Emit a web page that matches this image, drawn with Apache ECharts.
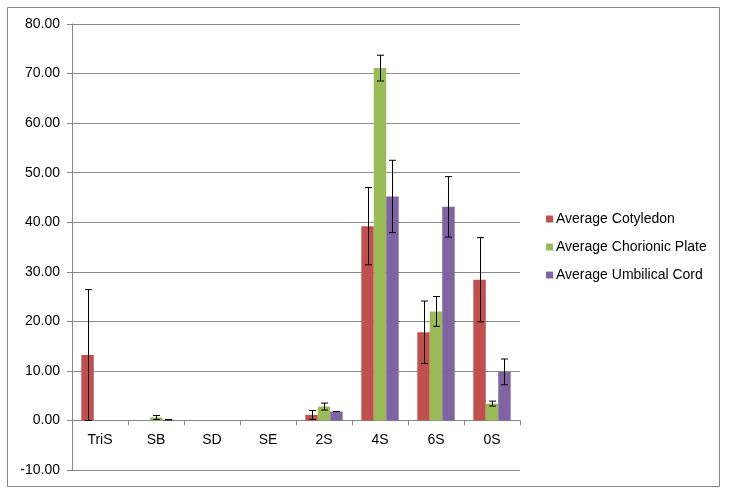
<!DOCTYPE html>
<html><head><meta charset="utf-8">
<script src="https://cdn.jsdelivr.net/npm/echarts@6/dist/echarts.min.js"></script>
<style>html,body{margin:0;padding:0;background:#fff}#c{width:729px;height:495px}</style>
</head><body><div id="c"></div>
<script>
const categories = ['TriS','SB','SD','SE','2S','4S','6S','0S'];
const seriesNames = ['Average Cotyledon','Average Chorionic Plate','Average Umbilical Cord'];
const cotyledon = [13.2, '-', '-', '-', 1.1, 39.2, 17.8, 28.4];
const cotyledonErr = [13.2, null, null, null, 0.9, 7.8, 6.3, 8.5];
const chorionic = ['-', 0.6, '-', '-', 2.8, 71.1, 22.0, 3.4];
const chorionicErr = [null, 0.4, null, null, 0.7, 2.6, 3.0, 0.5];
const umbilical = ['-', 0.15, '-', '-', 1.8, 45.2, 43.1, 9.8];
const umbilicalErr = [null, 0, null, null, 0, 7.3, 6.1, 2.6];
const yTicks = {min: -10, max: 80, interval: 10};
const colors = ['#C0504D','#9BBB59','#8064A2'];
const FONT = 'Liberation Sans';

const values = [cotyledon, chorionic, umbilical];
const errs = [cotyledonErr, chorionicErr, umbilicalErr];

const series = [];
values.forEach((vals, i) => {
  series.push({
    name: seriesNames[i], type: 'bar', data: vals,
    itemStyle: {color: colors[i]},
    barGap: '0%', barCategoryGap: '33.3%'
  });
});
values.forEach((vals, i) => {
  const data = [];
  vals.forEach((v, k) => {
    if (v !== '-' && errs[i][k] != null) data.push([k, v, errs[i][k]]);
  });
  series.push({
    type: 'custom', name: 'err' + i, z: 5, silent: true,
    encode: {x: 0, y: 1},
    data: data,
    renderItem: function (params, api) {
      const k = api.value(0), v = api.value(1), e = api.value(2);
      const c = api.coord([k, v]);
      const cw = api.size([1, 0])[0];
      const bw = cw / 4.5;
      const x = Math.round(c[0] + (i - 1) * bw) + 0.5;
      const hi = api.coord([k, v + e])[1];
      const lo = api.coord([k, v - e])[1];
      const st = {stroke: '#000', lineWidth: 1};
      const h = 3.5;
      return {type: 'group', children: [
        {type: 'line', shape: {x1: x, y1: hi, x2: x, y2: lo}, style: st},
        {type: 'line', shape: {x1: x - h, y1: hi, x2: x + h, y2: hi}, style: st},
        {type: 'line', shape: {x1: x - h, y1: lo, x2: x + h, y2: lo}, style: st}
      ]};
    }
  });
});

const chart = echarts.init(document.getElementById('c'));
chart.setOption({
  animation: false,
  textStyle: {fontFamily: FONT},
  grid: {left: 72, right: 209, top: 24, bottom: 25, containLabel: false},
  legend: {
    data: seriesNames, orient: 'vertical', left: 541, top: 207,
    itemWidth: 7, itemHeight: 7, itemGap: 14, icon: 'rect',
    textStyle: {fontFamily: FONT, fontSize: 14, color: '#000', padding: [0, 0, 0, -2]}
  },
  xAxis: {
    type: 'category', data: categories,
    axisLine: {onZero: true, lineStyle: {color: '#888'}},
    axisTick: {show: true, length: 5, lineStyle: {color: '#888'}, alignWithLabel: false},
    axisLabel: {fontFamily: FONT, fontSize: 14, color: '#000', margin: -37},
    splitLine: {show: false}
  },
  yAxis: {
    type: 'value', min: yTicks.min, max: yTicks.max, interval: yTicks.interval,
    axisLine: {show: true, lineStyle: {color: '#888'}},
    axisTick: {show: true, length: 5, lineStyle: {color: '#888'}},
    axisLabel: {fontFamily: FONT, fontSize: 14, color: '#000', margin: 12,
      formatter: v => v.toFixed(2)},
    splitLine: {show: true, lineStyle: {color: '#8c8c8c'}}
  },
  graphic: [{type: 'rect', shape: {x: 7.5, y: 7.5, width: 712, height: 479},
    style: {fill: 'none', stroke: '#888', lineWidth: 1}, silent: true}],
  series: series
});
</script></body></html>
